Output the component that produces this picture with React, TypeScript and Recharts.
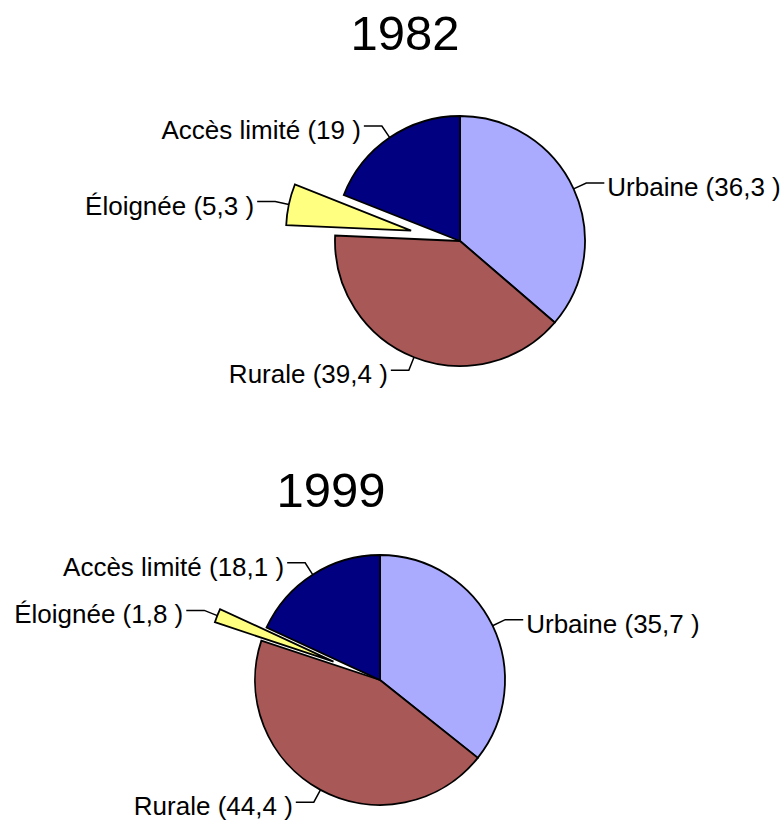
import React from 'react';
import { PieChart, Pie, Cell } from 'recharts';

const categories = ['Urbaine', 'Rurale', 'Éloignée', 'Accès limité'];
const values1982 = [36.3, 39.4, 5.3, 19];
const values1999 = [35.7, 44.4, 1.8, 18.1];
const years = ['1982', '1999'];
const colors = ['#AAAAFF', '#A85856', '#FFFF80', '#000080'];
const explodedIndex = 2;

const FONT = '"Liberation Sans", Arial, Helvetica, sans-serif';
const RAD = Math.PI / 180;
const R = 125;
const EXPLODE = 50;

const pies = [
  { year: years[0], values: values1982, cx: 460, cy: 241, titleX: 405, titleY: 50 },
  { year: years[1], values: values1999, cx: 380, cy: 680, titleX: 331, titleY: 507 },
];

const fmt = (v: number) => String(v).replace('.', ',');

const makeData = (values: number[]) =>
  categories.map((name, i) => ({ name, value: values[i] }));

const midAngleOf = (values: number[], idx: number) => {
  const total = values.reduce((a, b) => a + b, 0);
  let before = 0;
  for (let i = 0; i < idx; i++) before += values[i];
  const mid = (before + values[idx] / 2) / total; // fraction clockwise from top
  return mid * 360;
};

const renderLabel = (show: (i: number) => boolean) => (props: any) => {
  const { cx, cy, midAngle, outerRadius, index, name, value } = props;
  if (!show(index)) return <g key={`l-${index}`} />;
  const cos = Math.cos(-midAngle * RAD);
  const sin = Math.sin(-midAngle * RAD);
  const sx = cx + outerRadius * cos;
  const sy = cy + outerRadius * sin;
  const ex = cx + (outerRadius + 14) * cos;
  const ey = cy + (outerRadius + 14) * sin;
  const right = cos >= 0;
  const hx = ex + (right ? 18 : -18);
  const tx = hx + (right ? 3 : -3);
  return (
    <g key={`l-${index}`}>
      <polyline
        points={`${sx},${sy} ${ex},${ey} ${hx},${ey}`}
        fill="none"
        stroke="#000"
        strokeWidth={1.5}
      />
      <text
        x={tx}
        y={ey + 13}
        textAnchor={right ? 'start' : 'end'}
        fontFamily={FONT}
        fontSize={26}
        fill="#000"
      >
        {`${name} (${fmt(value)} )`}
      </text>
    </g>
  );
};

export default function App() {
  return (
    <div style={{ position: 'absolute', left: 0, top: 0, width: 782, height: 820, background: '#fff' }}>
      <PieChart width={782} height={820} margin={{ top: 0, right: 0, bottom: 0, left: 0 }}>
        {pies.map((p, pi) => {
          const data = makeData(p.values);
          const mid = midAngleOf(p.values, explodedIndex);
          const ecx = p.cx + EXPLODE * Math.sin(mid * RAD);
          const ecy = p.cy - EXPLODE * Math.cos(mid * RAD);
          return [
            <Pie
              key={`main-${pi}`}
              data={data}
              dataKey="value"
              nameKey="name"
              cx={p.cx}
              cy={p.cy}
              outerRadius={R}
              startAngle={90}
              endAngle={-270}
              isAnimationActive={false}
              labelLine={false}
              label={renderLabel((i) => i !== explodedIndex)}
            >
              {data.map((d, i) => (
                <Cell
                  key={`c-${i}`}
                  fill={i === explodedIndex ? 'none' : colors[i]}
                  stroke={i === explodedIndex ? 'none' : '#000'}
                  strokeWidth={1.8}
                />
              ))}
            </Pie>,
            <Pie
              key={`exp-${pi}`}
              data={data}
              dataKey="value"
              nameKey="name"
              cx={ecx}
              cy={ecy}
              outerRadius={R}
              startAngle={90}
              endAngle={-270}
              isAnimationActive={false}
              labelLine={false}
              label={renderLabel((i) => i === explodedIndex)}
            >
              {data.map((d, i) => (
                <Cell
                  key={`e-${i}`}
                  fill={i === explodedIndex ? colors[i] : 'none'}
                  stroke={i === explodedIndex ? '#000' : 'none'}
                  strokeWidth={1.8}
                />
              ))}
            </Pie>,
          ];
        })}
      </PieChart>
      <svg
        width={782}
        height={820}
        style={{ position: 'absolute', left: 0, top: 0, pointerEvents: 'none' }}
      >
        {pies.map((p) => (
          <text
            key={p.year}
            x={p.titleX}
            y={p.titleY}
            textAnchor="middle"
            fontFamily={FONT}
            fontSize={49}
            fill="#000"
          >
            {p.year}
          </text>
        ))}
      </svg>
    </div>
  );
}
